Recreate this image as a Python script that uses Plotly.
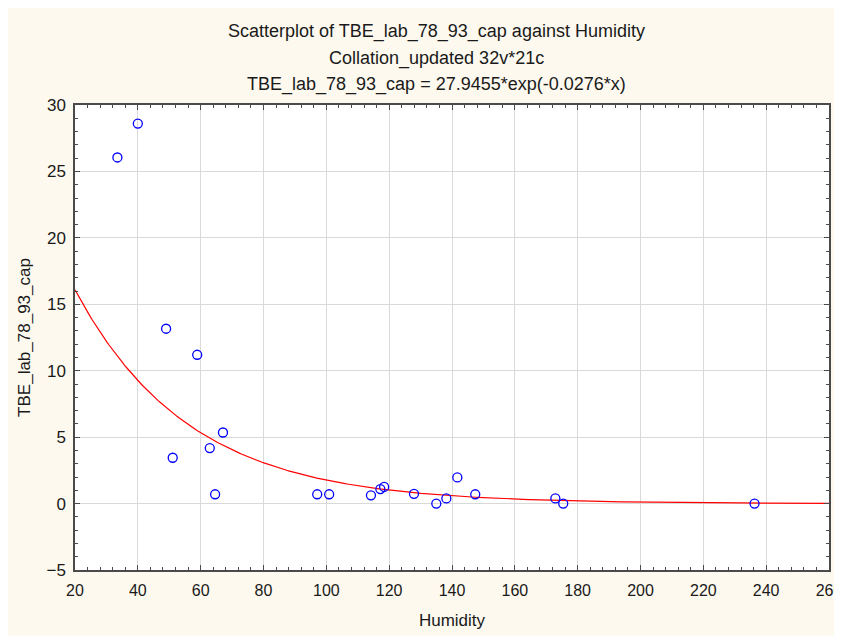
import numpy as np
import plotly.graph_objects as go

# =============================================================================
# DATOS
# =============================================================================

humidity = [33.5, 40.0, 49.0, 51.1, 58.9, 62.9, 64.6, 67.1,
            97.1, 100.9, 114.2, 117.2, 118.4, 127.9, 135.0, 138.2,
            141.7, 147.4, 172.9, 175.4, 236.3]
tbe_cap = [26.05, 28.6, 13.16, 3.45, 11.2, 4.18, 0.70, 5.35,
           0.70, 0.70, 0.62, 1.09, 1.25, 0.73, 0.0, 0.39,
           1.97, 0.70, 0.39, 0.0, 0.0]

fit_a = 27.9455
fit_b = -0.0276

x_ticks = [20, 40, 60, 80, 100, 120, 140, 160, 180, 200, 220, 240, 260]
y_ticks = [-5, 0, 5, 10, 15, 20, 25, 30]

title_lines = [
    "Scatterplot of TBE_lab_78_93_cap against Humidity",
    "Collation_updated 32v*21c",
    "TBE_lab_78_93_cap = 27.9455*exp(-0.0276*x)",
]

COLOR_CREAM = "#FDF9EF"
COLOR_FRAME = "#4A4A4A"
COLOR_GRID = "#D9D9D9"
COLOR_TEXT = "#1A1A1A"
FONT = "Liberation Sans, Arial, sans-serif"

# curva ajustada
x_fit = np.linspace(20, 260, 400)
y_fit = fit_a * np.exp(fit_b * x_fit)

fig = go.Figure()

fig.add_trace(
    go.Scatter(
        x=x_fit, y=y_fit,
        mode="lines",
        line=dict(color="#FF0000", width=1.2),
        showlegend=False,
        hoverinfo="skip",
    )
)

fig.add_trace(
    go.Scatter(
        x=humidity, y=tbe_cap,
        mode="markers",
        marker=dict(symbol="circle-open", size=9, color="#0000FF",
                    line=dict(width=1.3, color="#0000FF")),
        showlegend=False,
    )
)

# titulo en tres lineas (anotaciones para controlar el interlineado)
for txt, yy in zip(title_lines, [1.157, 1.101, 1.045]):
    fig.add_annotation(
        text=txt, xref="paper", yref="paper",
        x=0.480, y=yy, xanchor="center", yanchor="middle",
        showarrow=False,
        font=dict(family=FONT, size=18, color=COLOR_TEXT),
    )

# la pagina tiene 8px de margen blanco -> figura de 834x628
fig.update_layout(
    width=834, height=628,
    margin=dict(l=67, r=13, t=97, b=66),
    paper_bgcolor=COLOR_CREAM,
    plot_bgcolor="white",
    font=dict(family=FONT, size=17, color=COLOR_TEXT),
)

fig.update_xaxes(
    range=[20, 260],
    tickvals=x_ticks,
    ticks="inside", ticklen=5, tickcolor=COLOR_FRAME,
    showline=True, linecolor=COLOR_FRAME, linewidth=1.5, mirror="ticks",
    showgrid=True, gridcolor=COLOR_GRID, gridwidth=1,
    zeroline=False,
    minor=dict(dtick=4, ticks="inside", ticklen=3, tickcolor=COLOR_FRAME, showgrid=False),
    title=dict(text="Humidity", font=dict(size=17), standoff=16),
    tickfont=dict(size=16),
    ticklabelstandoff=5,
    ticklabeloverflow="allow",
    automargin=False,
)

fig.update_yaxes(
    range=[-5, 30],
    tickvals=y_ticks,
    ticks="inside", ticklen=5, tickcolor=COLOR_FRAME,
    showline=True, linecolor=COLOR_FRAME, linewidth=1.5, mirror="ticks",
    showgrid=True, gridcolor=COLOR_GRID, gridwidth=1,
    zeroline=False,
    minor=dict(dtick=1, ticks="inside", ticklen=3, tickcolor=COLOR_FRAME, showgrid=False),
    title=dict(text="TBE_lab_78_93_cap", font=dict(size=17), standoff=12),
    tickfont=dict(size=17),
    ticklabelstandoff=4,
    automargin=False,
)

fig.write_html("out.html")
